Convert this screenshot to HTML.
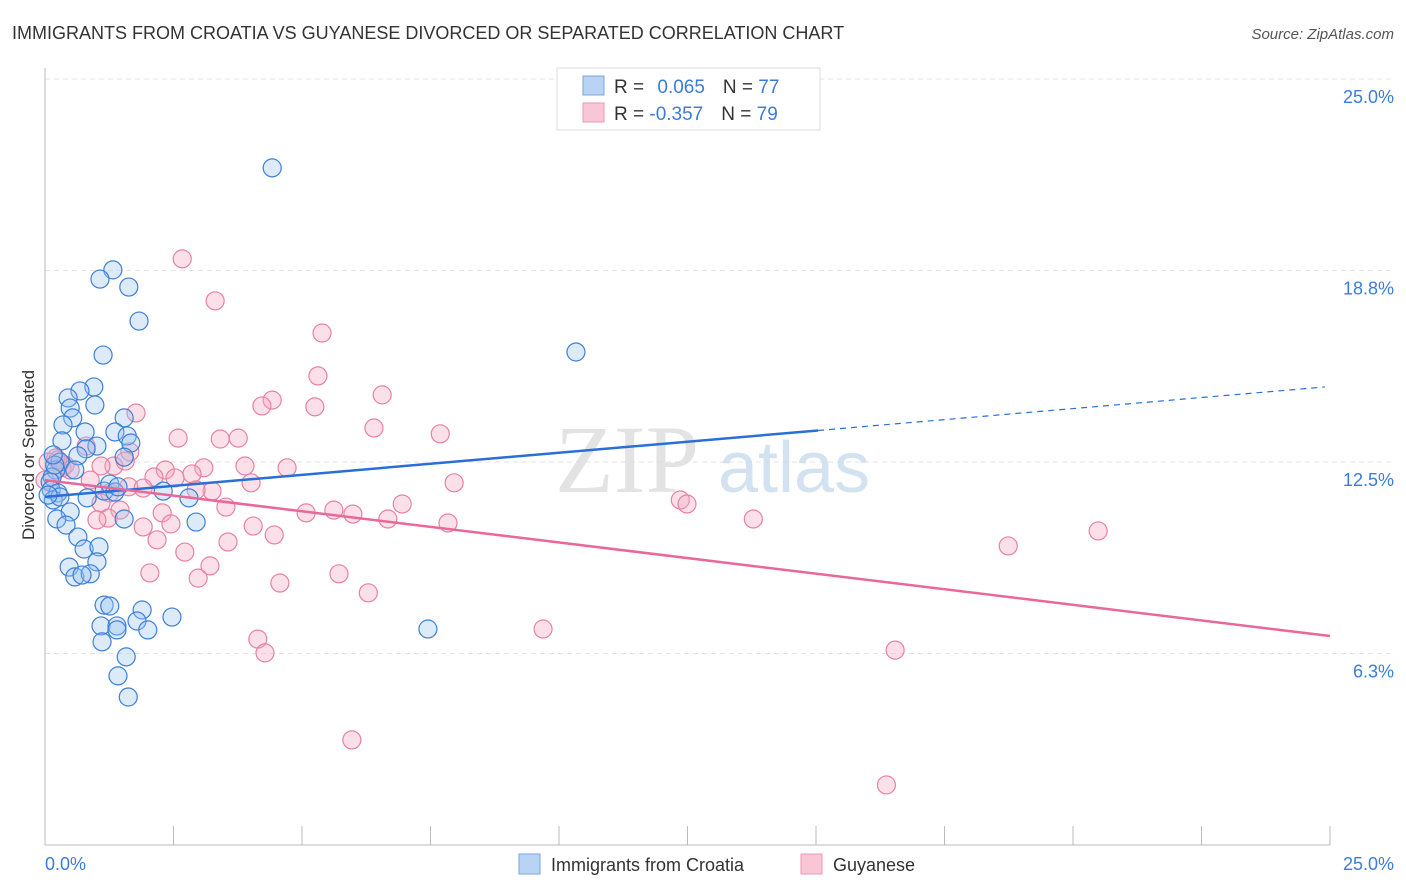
<!DOCTYPE html>
<html><head><meta charset="utf-8"><style>
body{margin:0;background:#fff;font-family:"Liberation Sans",sans-serif;}
svg{display:block}
</style></head><body>
<svg id="chart" width="1406" height="892" xmlns="http://www.w3.org/2000/svg">
<text x="12" y="39" font-size="18" fill="#333">IMMIGRANTS FROM CROATIA VS GUYANESE DIVORCED OR SEPARATED CORRELATION CHART</text>
<text x="1394" y="39" font-size="15" fill="#555" font-style="italic" text-anchor="end">Source: ZipAtlas.com</text>
<g id="grid"></g>
<g><text x="555" y="492" font-size="96" fill="#ddd" font-family="Liberation Serif" opacity="0.8">ZIP</text><text x="718" y="492" font-size="72" fill="#c9dbee" opacity="0.8">atlas</text></g>
<line x1="45" y1="68" x2="45" y2="845" stroke="#bbb"/>
<line x1="45" y1="845" x2="1330" y2="845" stroke="#bbb"/>
<text transform="translate(34,455) rotate(-90)" font-size="17" fill="#333" text-anchor="middle">Divorced or Separated</text>
<text x="45" y="870" font-size="18" fill="#3b7dd8">0.0%</text>
<text x="1394" y="870" font-size="18" fill="#3b7dd8" text-anchor="end">25.0%</text>
<g id="points"></g>
<g id="trends"></g>
<g>
<rect x="557" y="68" width="263" height="62" fill="#fff" stroke="#ddd"/>
<rect x="583" y="76" width="21" height="19" fill="#b9d3f5" stroke="#7aa6e0"/>
<rect x="583" y="103" width="21" height="19" fill="#f9c6d6" stroke="#ec98b4"/>
<text x="614" y="93" font-size="19" fill="#333">R = <tspan fill="#3b7dd8" dx="8">0.065</tspan><tspan dx="18" fill="#333">N = </tspan><tspan fill="#3b7dd8">77</tspan></text>
<text x="614" y="120" font-size="19" fill="#333">R = <tspan fill="#3b7dd8">-0.357</tspan><tspan dx="18" fill="#333">N = </tspan><tspan fill="#3b7dd8">79</tspan></text>
</g>
<g>
<rect x="519" y="854" width="21" height="20" fill="#b9d3f5" stroke="#7aa6e0"/>
<text x="551" y="871" font-size="18" fill="#333">Immigrants from Croatia</text>
<rect x="801" y="854" width="21" height="20" fill="#f9c6d6" stroke="#ec98b4"/>
<text x="833" y="871" font-size="18" fill="#333">Guyanese</text>
</g>
</svg>
<script>
const yTicks=[6.25,12.5,18.75,25];
const yTickLabels=["6.3%","12.5%","18.8%","25.0%"];
const xTickCount=10;
const blueX=[4.42,1.32,1.07,1.63,1.83,1.13,10.33,0.95,0.68,0.45,0.49,0.97,1.54,0.54,0.35,0.78,1.36,1.60,0.33,1.01,1.67,0.80,0.64,1.54,0.29,0.21,0.14,0.10,0.12,0.25,1.15,1.26,2.30,2.80,0.82,1.36,0.16,0.29,0.49,0.23,0.41,1.54,2.94,0.64,0.76,1.05,0.47,1.01,0.58,0.88,0.72,1.15,1.26,1.89,2.47,1.79,1.09,1.40,1.40,2.00,7.45,1.11,1.58,1.42,1.62,0.19,0.06,0.16,0.58,1.42];
const blueY=[22.10,18.77,18.47,18.21,17.10,15.99,16.09,14.95,14.82,14.59,14.26,14.36,13.94,13.94,13.71,13.48,13.48,13.35,13.19,13.02,13.12,12.93,12.70,12.66,12.50,12.24,12.01,11.85,11.59,11.49,11.55,11.78,11.55,11.33,11.33,11.52,11.26,11.36,10.87,10.64,10.44,10.64,10.54,10.05,9.66,9.73,9.07,9.24,8.75,8.85,8.81,7.83,7.80,7.67,7.44,7.31,7.15,7.15,7.02,7.02,7.05,6.63,6.14,5.52,4.83,12.40,11.42,12.73,12.24,11.69];
const pinkX=[2.67,3.31,5.39,5.31,6.56,4.42,4.22,5.25,1.77,6.40,7.69,2.59,3.41,3.76,0.80,1.65,3.09,4.71,3.89,2.34,2.86,2.12,2.53,1.34,1.56,1.09,0.33,0.21,0.88,7.96,4.01,1.63,1.91,3.25,2.94,1.26,12.36,12.49,6.95,3.52,5.08,5.62,5.99,6.67,7.84,2.28,1.46,1.09,1.23,1.01,1.91,2.45,4.05,4.46,2.18,3.56,2.72,3.21,2.04,2.98,4.57,5.72,6.29,13.78,20.49,18.74,4.14,4.28,9.69,16.54,5.97,16.37,0.06,0.39,0.49,0.0,0.25];
const pinkY=[19.13,17.76,16.71,15.31,14.69,14.52,14.33,14.30,14.10,13.61,13.42,13.28,13.25,13.28,13.02,12.83,12.31,12.31,12.37,12.24,12.11,12.01,11.98,12.37,12.53,12.37,12.31,12.63,11.91,11.82,11.82,11.69,11.65,11.55,11.59,11.49,11.26,11.13,11.13,11.03,10.84,10.93,10.80,10.64,10.51,10.84,10.93,11.16,10.67,10.61,10.38,10.48,10.41,10.12,9.96,9.89,9.56,9.11,8.88,8.71,8.55,8.85,8.23,10.64,10.25,9.76,6.72,6.27,7.05,6.36,3.43,1.96,12.50,12.40,12.24,11.91,12.57];
const blueTrend=[11.36,14.95]; // y at x=0 and x=24.9
const blueSolidEnd=15.04;
const pinkTrend=[11.91,6.82]; // y at x=0 and x=25
const NS="http://www.w3.org/2000/svg";
const X=v=>45+v/25*1285, Y=v=>845-v/25*766;
function mk(t,a,p){const e=document.createElementNS(NS,t);for(const k in a)e.setAttribute(k,a[k]);p.appendChild(e);return e;}
const grid=document.getElementById('grid');
yTicks.forEach((t,i)=>{
 const l=mk('line',{x1:45,x2:1394,y1:Y(t),y2:Y(t),stroke:'#e3e3e3','stroke-dasharray':'5,4'},grid);
 
 
 const tx=mk('text',{x:1394,y:Y(t)+24,'font-size':18,fill:'#3b7dd8','text-anchor':'end'},grid);
 tx.textContent=yTickLabels[i];
 
 
});
for(let i=1;i<=xTickCount;i++){
 const l=mk('line',{x1:X(i*2.5),x2:X(i*2.5),y1:826,y2:845,stroke:'#bbb'},grid);
 
 
}
const pts=document.getElementById('points');
function draw(xs,ys,fill,stroke,name){xs.forEach((x,i)=>{
 const c=mk('circle',{cx:X(x),cy:Y(ys[i]),r:9,fill:fill,'fill-opacity':0.35,stroke:stroke,'stroke-width':1.2},pts);
 
 
});}
draw(pinkX,pinkY,'#f4a6bf','#e9829f','point-guyanese');
draw(blueX,blueY,'#9cc3f0','#3d7fd9','point-croatia');
const tr=document.getElementById('trends');
const bAt=x=>blueTrend[0]+(blueTrend[1]-blueTrend[0])*x/24.9;
let l=mk('line',{x1:X(0),y1:Y(bAt(0)),x2:X(blueSolidEnd),y2:Y(bAt(blueSolidEnd)),stroke:'#2a6fd6','stroke-width':2.5},tr);


l=mk('line',{x1:X(blueSolidEnd),y1:Y(bAt(blueSolidEnd)),x2:X(24.9),y2:Y(bAt(24.9)),stroke:'#2a6fd6','stroke-width':1.2,'stroke-dasharray':'6,5'},tr);


l=mk('line',{x1:X(0),y1:Y(pinkTrend[0]),x2:X(25),y2:Y(pinkTrend[1]),stroke:'#e8689a','stroke-width':2.5},tr);


</script>
</body></html>
